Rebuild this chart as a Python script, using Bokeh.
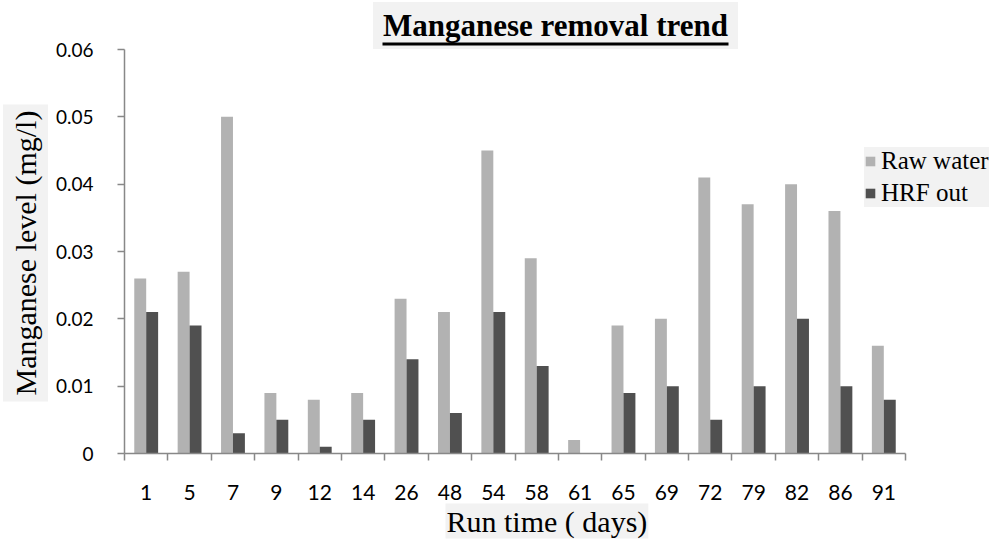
from bokeh.plotting import figure
from bokeh.models import (Range1d, LinearAxis, FixedTicker, Label, Title,
                          BoxAnnotation, Legend, LegendItem, NumeralTickFormatter,
                          ColumnDataSource)
from bokeh.transform import dodge
from bokeh.embed import file_html
from bokeh.resources import INLINE

# ---------------- data ----------------
days = ["1", "5", "7", "9", "12", "14", "26", "48", "54", "58", "61", "65",
        "69", "72", "79", "82", "86", "91"]
raw_water = [0.026, 0.027, 0.050, 0.009, 0.008, 0.009, 0.023, 0.021, 0.045,
             0.029, 0.002, 0.019, 0.020, 0.041, 0.037, 0.040, 0.036, 0.016]
hrf_out = [0.021, 0.019, 0.003, 0.005, 0.001, 0.005, 0.014, 0.006, 0.021,
           0.013, 0.000, 0.009, 0.010, 0.005, 0.010, 0.020, 0.010, 0.008]
y_ticks = [0.0, 0.01, 0.02, 0.03, 0.04, 0.05, 0.06]
series_names = ["Raw water", "HRF out"]
title_text = "Manganese removal trend"
x_title = "Run time ( days)"
y_title = "Manganese level (mg/l)"

# ---------------- style / layout ----------------
RAW_COLOR = "#b2b2b2"
HRF_COLOR = "#505050"
AXIS_COLOR = "#888888"
BOX_BG = "#f2f2f2"
SERIF = "Times New Roman"
SANS = "Lato"

W, H = 1004, 542
F_LEFT, F_TOP, F_BOTTOM = 124, 0, 453   # frame edges (pixels)
AXIS_RIGHT = 905                          # where the category axis ends
Y_AXIS_TOP_PX = 49                        # where 0.06 sits
y_max = y_ticks[-1]
y_end = y_max * (F_BOTTOM - F_TOP) / (F_BOTTOM - Y_AXIS_TOP_PX)

n = len(days)
centers = [i + 0.5 for i in range(n)]          # category slots
edges = [float(i) for i in range(n + 1)]        # slot boundaries
x_end = n * (W - F_LEFT) / (AXIS_RIGHT - F_LEFT)

src = ColumnDataSource(dict(pos=centers, day=days, raw=raw_water, hrf=hrf_out))

p = figure(width=W, height=H,
           x_range=Range1d(0, x_end),
           y_range=Range1d(0, y_end),
           output_backend="svg", toolbar_location=None,
           x_axis_location=None, y_axis_location="left",
           min_border_left=F_LEFT, min_border_right=0,
           min_border_top=F_TOP, min_border_bottom=H - F_BOTTOM,
           outline_line_color=None, background_fill_color="white",
           border_fill_color="white")
p.title.visible = False
p.grid.visible = False

# helper ranges in pixel coordinates, for annotations inside the frame
p.extra_x_ranges = {"px": Range1d(F_LEFT, W)}
p.extra_y_ranges = {"py": Range1d(F_BOTTOM, F_TOP)}

# bars
bw = 0.275
r1 = p.vbar(x=dodge("pos", -bw / 2), top="raw", width=bw,
            source=src, fill_color=RAW_COLOR, line_color=None)
r2 = p.vbar(x=dodge("pos", bw / 2), top="hrf", width=bw,
            source=src, fill_color=HRF_COLOR, line_color=None)

# y axis
ya = p.yaxis[0]
ya.ticker = FixedTicker(ticks=y_ticks)
ya.formatter = NumeralTickFormatter(format="0.[00]")
ya.bounds = (0, y_max)
ya.axis_line_color = AXIS_COLOR
ya.axis_line_width = 1.5
ya.major_tick_line_color = AXIS_COLOR
ya.major_tick_line_width = 1.5
ya.major_tick_in = 0
ya.major_tick_out = 7
ya.minor_tick_line_color = None
ya.major_label_standoff = 24
ya.major_label_text_font = SANS
ya.major_label_text_font_size = "19px"
ya.major_label_text_color = "black"

# x axis: labels at category centres, tick marks at category boundaries
xa = LinearAxis(ticker=FixedTicker(ticks=centers, minor_ticks=edges),
                bounds=(0, n),
                major_label_overrides={c: d for c, d in zip(centers, days)},
                axis_line_color=AXIS_COLOR, axis_line_width=1.5,
                major_tick_line_color=None, major_tick_in=0, major_tick_out=0,
                minor_tick_line_color=AXIS_COLOR, minor_tick_line_width=1.5,
                minor_tick_in=0, minor_tick_out=7,
                major_label_standoff=24,
                major_label_text_font=SANS,
                major_label_text_font_size="21px",
                major_label_text_color="black")
p.add_layout(xa, "below")

# axis titles (with light background) in the side panels
p.add_layout(Title(text=x_title, align="left", offset=445 - F_LEFT,
                   vertical_align="middle", standoff=0,
                   text_font=SERIF, text_font_style="normal",
                   text_font_size="30px", text_color="black",
                   background_fill_color=BOX_BG, padding=1), "below")
p.add_layout(Title(text=y_title, align="left", offset=F_BOTTOM - 401,
                   vertical_align="top", standoff=5,
                   text_font="serif", text_font_style="normal",
                   text_font_size="30px", text_color="black",
                   background_fill_color=BOX_BG, padding=6), "left")

# chart title with background and underline (inside the frame's top strip)
p.add_layout(Label(x=555, y=25, x_range_name="px", y_range_name="py",
                   text=title_text, text_font=SERIF, text_font_style="bold",
                   text_font_size="31px", text_align="center",
                   text_baseline="middle", text_color="black",
                   background_fill_color=BOX_BG,
                   padding=dict(left=10, right=10, top=6, bottom=6)))
p.add_layout(BoxAnnotation(left=382, right=728, top=42, bottom=45,
                           x_range_name="px", y_range_name="py",
                           fill_color="black", fill_alpha=1.0,
                           line_color=None))

# legend
legend = Legend(items=[LegendItem(label=series_names[0], renderers=[r1]),
                       LegendItem(label=series_names[1], renderers=[r2])],
                location=(864 - F_LEFT, F_BOTTOM - 207),
                background_fill_color=BOX_BG, background_fill_alpha=1.0,
                border_line_color=None, margin=0, padding=8,
                spacing=4, glyph_width=12, glyph_height=12,
                label_height=22, label_standoff=5,
                label_text_font=SERIF, label_text_font_size="25px",
                label_text_color="black")
p.add_layout(legend)

open("out.html", "w").write(file_html(p, INLINE))
